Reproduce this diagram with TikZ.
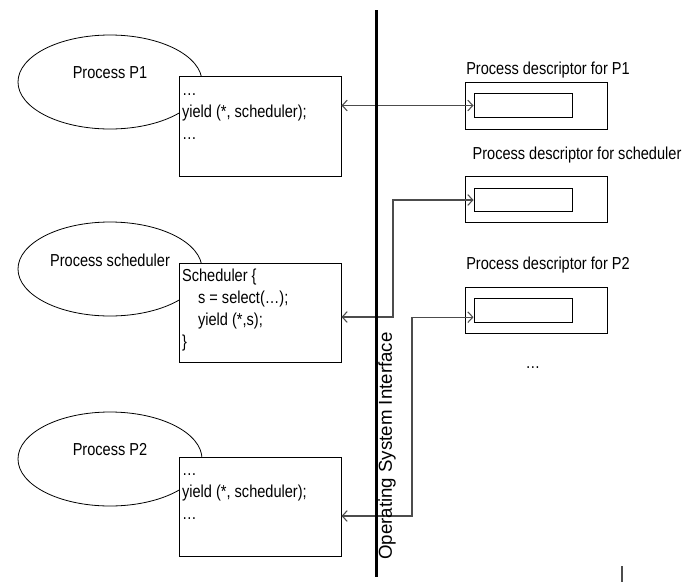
\documentclass[tikz,border=0pt]{standalone}
\usepackage{fontspec}
\setmainfont[FakeStretch=0.84]{Liberation Sans}
\newfontfamily\osifont{Liberation Sans}
\usetikzlibrary{positioning,arrows.meta,shapes.geometric,calc}

\begin{document}
\begin{tikzpicture}[
    x=0.75pt, y=-0.75pt,
    font=\fontsize{13pt}{16.5pt}\selectfont,
    proc/.style={ellipse, draw, line width=0.6pt, minimum width=138pt, minimum height=70.5pt, inner sep=0pt},
    plab/.style={inner sep=0pt},
    codebox/.style={rectangle, draw, line width=0.7pt, fill=white, minimum width=121.5pt, minimum height=74.5pt},
    code/.style={anchor=north west, align=left, inner sep=2.5pt},
    desc/.style={rectangle, draw, line width=0.7pt, minimum width=107pt, minimum height=35pt},
    slot/.style={rectangle, draw, line width=0.7pt, minimum width=73.5pt, minimum height=17.5pt},
    dlab/.style={inner sep=0pt},
    link/.style={{Straight Barb[length=3.75pt,width=8pt]}-{Straight Barb[length=3.75pt,width=8pt]}, draw=black!70, line width=0.8pt},
    osi/.style={line width=2.2pt}
]
\useasboundingbox (0,0) rectangle (692,582);

% processes (left side)
\node[proc] (p1) at (110,82)  {};
\node[proc] (ps) at (110,269) {};
\node[proc] (p2) at (110,459) {};
\node[plab] (p1lab) at ($(p1)+(0,-9)$) {Process P1};
\node[plab] (pslab) at ($(ps)+(0,-9)$) {Process scheduler};
\node[plab] (p2lab) at ($(p2)+(0,-9)$) {Process P2};

% code of each process
\node[codebox] (code1) at (260,126.5) {};
\node[codebox] (code2) at (260,313)   {};
\node[codebox] (code3) at (260,507)   {};
\node[code] (txt1) at (code1.north west) {\strut…\\yield (*, scheduler);\\…};
\node[code] (txt2) at (code2.north west) {\strut Scheduler \{\\\hspace{12pt}s = select(…);\\\hspace{12pt}yield (*,s);\\\}};
\node[code] (txt3) at (code3.north west) {\strut…\\yield (*, scheduler);\\…};

% process descriptors (right side)
\node[desc] (d1) at (536.5,106)   {};
\node[desc] (d2) at (536.5,199.5) {};
\node[desc] (d3) at (536.5,310.5) {};
\node[slot] (in1) at (523,105.5) {};
\node[slot] (in2) at (523,200)   {};
\node[slot] (in3) at (523,310.5) {};
\node[dlab] (d1lab) at (548,70)  {Process descriptor for P1};
\node[dlab] (d2lab) at (577,155) {Process descriptor for scheduler};
\node[dlab] (d3lab) at (548,265) {Process descriptor for P2};
\node[dlab] (more) at (533,368) {…};

% links through the interface
\coordinate (bend2) at (393,317);
\coordinate (bend3) at (412,516);
\draw[link] (in1.west -| code1.east) -- (in1.west);
\draw[link] (bend2 -| code2.east) -- (bend2) |- (in2.west);
\draw[link] (bend3 -| code3.east) -- (bend3) |- ([yshift=-5pt]in3.west);

% operating system interface
\coordinate (osiT) at (376.5,10);
\coordinate (osiB) at (376.5,577);
\draw[osi] (osiT) -- (osiB);
\node[rotate=90, font=\osifont\fontsize{14pt}{16pt}\selectfont] (osilab) at (387,446) {Operating System Interface};

\coordinate (tickT) at (622,566);
\coordinate (tickB) at (622,582);
\draw[black!70, line width=1.4pt] (tickT) -- (tickB);

\end{tikzpicture}
\end{document}
